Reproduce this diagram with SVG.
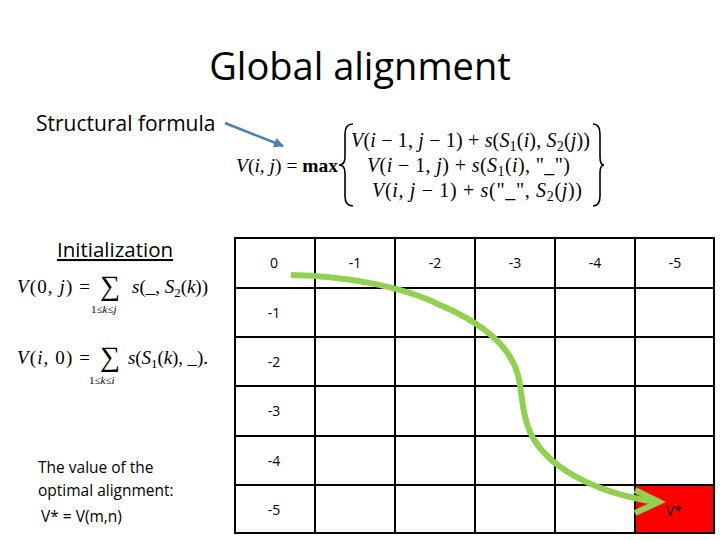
<svg xmlns="http://www.w3.org/2000/svg" width="720" height="540" viewBox="0 0 720 540">
<defs>
<style>
.sans{font-family:"Open Sans","Liberation Sans",sans-serif;fill:#000}
.math{font-family:"Liberation Serif","DejaVu Serif",serif;fill:#000}
.it{font-style:italic}
.num{font-family:"Open Sans","Liberation Sans",sans-serif;font-size:14px;text-anchor:middle;fill:#000}
.brace{fill:none;stroke:#000;stroke-width:1.6}
</style>
<marker id="blueHead" viewBox="0 0 10 10" refX="9" refY="5" markerWidth="4" markerHeight="4" orient="auto" markerUnits="strokeWidth">
<path d="M0,0 L10,5 L0,10 z" fill="#4a7ebb"/>
</marker>
</defs>
<rect width="720" height="540" fill="#fff"/>

<g id="title"><text class="sans" x="360" y="80" font-size="38" text-anchor="middle">Global alignment</text></g>

<g id="structural-label"><text class="sans" x="36" y="131" font-size="21">Structural formula</text></g>

<g id="formula">
<text class="math" x="236" y="172" font-size="19.5"><tspan class="it">V</tspan>(<tspan class="it">i, j</tspan>) = <tspan font-weight="bold">max</tspan></text>
<path class="brace" d="M353,124 Q345,124 345,134 L345,157 Q345,165 339,165 Q345,165 345,173 L345,196 Q345,206 353,206"/>
<text class="math" x="351" y="147" font-size="20" textLength="239"><tspan class="it">V</tspan>(<tspan class="it">i</tspan> − 1, <tspan class="it">j</tspan> − 1) + <tspan class="it">s</tspan>(<tspan class="it">S</tspan><tspan font-size="14" dy="4">1</tspan><tspan dy="-4">(</tspan><tspan class="it">i</tspan>), <tspan class="it">S</tspan><tspan font-size="14" dy="4">2</tspan><tspan dy="-4">(</tspan><tspan class="it">j</tspan>))</text>
<text class="math" x="367" y="172" font-size="20" textLength="203"><tspan class="it">V</tspan>(<tspan class="it">i</tspan> − 1, <tspan class="it">j</tspan>) + <tspan class="it">s</tspan>(<tspan class="it">S</tspan><tspan font-size="14" dy="4">1</tspan><tspan dy="-4">(</tspan><tspan class="it">i</tspan>), "_")</text>
<text class="math" x="372" y="197" font-size="20" textLength="210"><tspan class="it">V</tspan>(<tspan class="it">i, j</tspan> − 1) + <tspan class="it">s</tspan>("_", <tspan class="it">S</tspan><tspan font-size="14" dy="4">2</tspan><tspan dy="-4">(</tspan><tspan class="it">j</tspan>))</text>
<path class="brace" d="M593,124 Q600,124 600,134 L600,157 Q600,165 604,165 Q600,165 600,173 L600,196 Q600,206 593,206"/>
</g>

<g id="initialization">
<text class="sans" x="57" y="257" font-size="20.5" text-decoration="underline">Initialization</text>
<text class="math" x="17" y="293" font-size="19" textLength="73"><tspan class="it">V</tspan>(0, <tspan class="it">j</tspan>) =</text>
<text class="math" x="100" y="295" font-size="28">∑</text>
<text class="math" x="91" y="313" font-size="11">1≤<tspan class="it">k</tspan>≤<tspan class="it">j</tspan></text>
<text class="math" x="132" y="293" font-size="19" textLength="76"><tspan class="it">s</tspan>(_, <tspan class="it">S</tspan><tspan font-size="13" dy="4">2</tspan><tspan dy="-4">(</tspan><tspan class="it">k</tspan>))</text>
<text class="math" x="17" y="364" font-size="19" textLength="73"><tspan class="it">V</tspan>(<tspan class="it">i</tspan>, 0) =</text>
<text class="math" x="100" y="366" font-size="28">∑</text>
<text class="math" x="89" y="384" font-size="11">1≤<tspan class="it">k</tspan>≤<tspan class="it">i</tspan></text>
<text class="math" x="128" y="364" font-size="19" textLength="80"><tspan class="it">s</tspan>(<tspan class="it">S</tspan><tspan font-size="13" dy="4">1</tspan><tspan dy="-4">(</tspan><tspan class="it">k</tspan>), _).</text>
</g>

<g id="value-text">
<text class="sans" x="38" y="473" font-size="15.5">The value of the</text>
<text class="sans" x="38" y="496" font-size="15.5">optimal alignment:</text>
<text class="sans" x="41" y="522" font-size="15.5">V* = V(m,n)</text>
</g>

<g id="grid">
<g fill="#fff" stroke="#000" stroke-width="2">
<rect x="235" y="238" width="479" height="295"/>
<rect x="635" y="485" width="79" height="48" fill="#ff0000"/>
<path d="M315,238V533M395,238V533M475,238V533M555,238V533M635,238V533M235,288H714M235,337H714M235,386H714M235,436H714M235,485H714" fill="none"/>
</g>
<text class="num" x="274" y="268">0</text>
<text class="num" x="355" y="268">-1</text>
<text class="num" x="435" y="268">-2</text>
<text class="num" x="515" y="268">-3</text>
<text class="num" x="595" y="268">-4</text>
<text class="num" x="675" y="268">-5</text>
<text class="num" x="274" y="318">-1</text>
<text class="num" x="274" y="367">-2</text>
<text class="num" x="274" y="416">-3</text>
<text class="num" x="274" y="466">-4</text>
<text class="num" x="274" y="515">-5</text>
<text class="num" x="674" y="516" fill="#5a0000">V*</text>
</g>

<g id="connectors">
<line x1="225" y1="123" x2="283" y2="146" stroke="#4a7ebb" stroke-width="2.5" marker-end="url(#blueHead)"/>
<path d="M291,275 C340,276 400,285 440,305 C480,322 510,345 518,375 C523,395 521,412 530,432 C545,465 590,492 656,502" fill="none" stroke="#92d050" stroke-width="6" stroke-linecap="butt"/>
<polyline points="635,490 659,502 635,513" fill="none" stroke="#92d050" stroke-width="6" stroke-linejoin="miter"/>
</g>
</svg>
